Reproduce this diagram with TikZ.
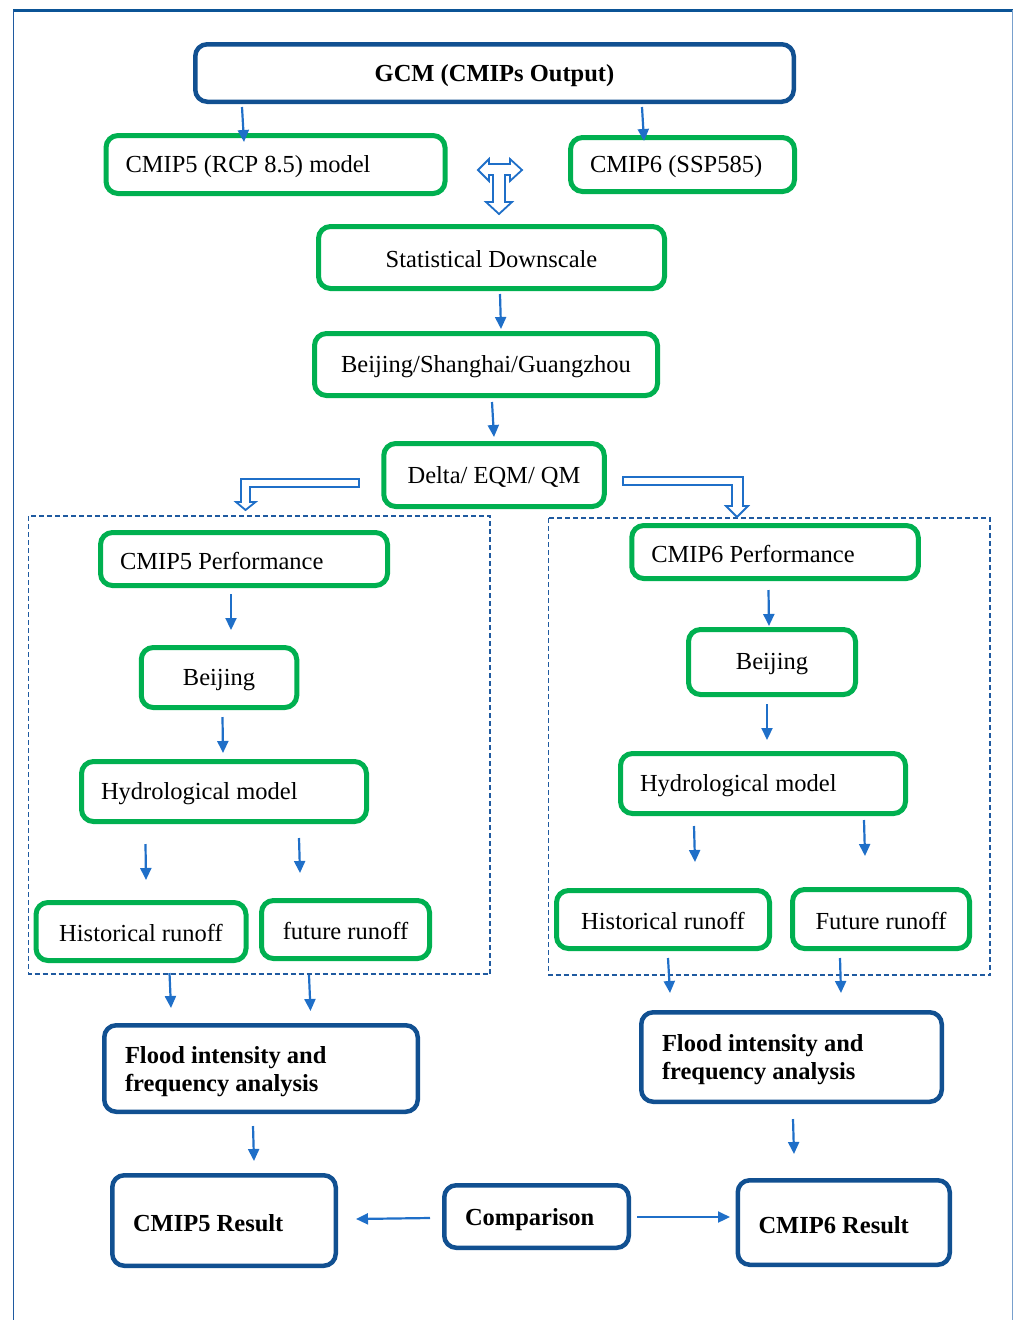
\documentclass[tikz,border=0pt]{standalone}
\usepackage{fontspec}
\setmainfont{Liberation Serif}
\usetikzlibrary{arrows.meta}
\definecolor{gr}{RGB}{0,176,80}
\definecolor{bl}{RGB}{17,80,145}
\definecolor{ar}{RGB}{31,111,200}
\definecolor{ds}{RGB}{31,90,160}
\definecolor{frm}{RGB}{11,84,150}
\definecolor{frl}{RGB}{120,160,205}
\newcommand\myfs{\fontsize{24.5pt}{28pt}\selectfont}
\begin{document}
\begin{tikzpicture}[x=1pt,y=-1pt,
  gbox/.style={draw=gr,line width=5pt,rounded corners=12pt,fill=white,inner sep=0pt,font=\myfs,text=black,
    execute at begin node={\rule{0pt}{21pt}}},
  bbox/.style={draw=bl,line width=4.5pt,rounded corners=12pt,fill=white,inner sep=0pt,font=\myfs\bfseries,text=black,
    execute at begin node={\rule{0pt}{23pt}}},
  glft/.style={align=flush left,inner xsep=19.5pt},
  blft/.style={align=flush left,inner xsep=20.75pt},
  arr/.style={draw=ar,line width=2.2pt,-{Triangle[length=12pt,width=11pt]}},
  hollow/.style={draw=ar,line width=1.8pt,fill=white,line join=miter},
  dbox/.style={draw=ds,line width=1.6pt,dash pattern=on 5pt off 3pt}]
\useasboundingbox (0,0) rectangle (1014,1320);
% frame
\draw[frm,line width=3pt] (13,10) -- (1013,10);
\draw[ds,line width=1.5pt] (13.5,10) -- (13.5,1320);
\draw[frl,line width=1.2pt] (1012.7,10) -- (1012.7,1320);
% dashed groups
\draw[dbox] (28.5,516) rectangle (490,974);
\draw[dbox] (548.5,518) rectangle (990,975);
% boxes
\node[bbox,minimum width=598.5pt,minimum height=57.5pt] (gcm) at (494.5,73) {GCM (CMIPs Output)};
\node[gbox,glft,text width=300pt,minimum height=58pt] (c5m) at (275.5,164.5) {CMIP5 (RCP 8.5) model};
\node[gbox,glft,text width=185pt,minimum height=54pt] (c6m) at (682.5,164.5) {CMIP6 (SSP585)};
\node[gbox,minimum width=346pt,minimum height=62pt] (sd) at (491.5,257.5) {Statistical Downscale};
\node[gbox,minimum width=343pt,minimum height=62pt] (bsg) at (486,364.5) {Beijing/Shanghai/Guangzhou};
\node[gbox,minimum width=220.5pt,minimum height=63pt] (dq) at (494,475) {Delta/ EQM/ QM};
\node[gbox,glft,text width=248pt,minimum height=53pt] (c5p) at (244,559) {CMIP5 Performance};
\node[gbox,minimum width=155.5pt,minimum height=60pt] (bjl) at (219,677.5) {Beijing};
\node[gbox,glft,text width=246pt,minimum height=60pt] (hml) at (224,791.5) {Hydrological model};
\node[gbox,minimum width=210pt,minimum height=58pt] (hrl) at (141,931.5) {Historical runoff};
\node[gbox,minimum width=168pt,minimum height=58pt] (frlb) at (345.5,929.5) {future runoff};
\node[gbox,glft,text width=247.5pt,minimum height=53pt] (c6p) at (775,552) {CMIP6 Performance};
\node[gbox,minimum width=167pt,minimum height=65pt] (bjr) at (772,662) {Beijing};
\node[gbox,glft,text width=246pt,minimum height=60pt] (hmr) at (763,783.5) {Hydrological model};
\node[gbox,minimum width=213pt,minimum height=58pt] (hrr) at (663,919.5) {Historical runoff};
\node[gbox,minimum width=177pt,minimum height=59pt] (frr) at (881,919) {Future runoff};
\node[bbox,blft,text width=272pt,minimum height=86.5pt] (fl) at (261,1068.5) {Flood intensity and\\frequency analysis};
\node[bbox,blft,text width=259pt,minimum height=89.5pt] (fr) at (791.5,1057) {Flood intensity and\\frequency analysis};
\node[bbox,blft,text width=182pt,minimum height=90.5pt] (c5r) at (224,1220.5) {CMIP5 Result};
\node[bbox,blft,text width=143pt,minimum height=62.5pt] (cmp) at (536.5,1216.5) {Comparison};
\node[bbox,blft,text width=170.5pt,minimum height=84.5pt] (c6r) at (843.75,1222.5) {CMIP6 Result};
% small arrows
\foreach \i/\xa/\ya/\xb/\yb in {
  1/242/107/244/142, 2/642/107/644/141, 3/500/294/501/329, 4/492/402/494/437,
  5/231/594/231/630, 6/222.5/717/223/753, 7/145.5/844/146/880, 8/299/838/300/873,
  9/768.5/590/769/626, 10/767/704/767/740, 11/694/826/695/862, 12/864/820/865/856,
  13/169.5/973/171/1008, 14/309/975/310.5/1011, 15/668/958/670/993, 16/840/958/841/993,
  17/253/1126/254/1161, 18/793/1119/794/1154, 19/430/1218/356/1219, 20/637/1217/730/1217}{
  \coordinate (s\i) at (\xa,\ya);
  \coordinate (e\i) at (\xb,\yb);
  \draw[arr] (s\i) -- (e\i);
}
% T-shaped hollow double arrow
\draw[hollow] (478,170) -- (489,159) -- (489,164) -- (510,164) -- (510,159) -- (522,170)
  -- (510,181) -- (510,175) -- (505,175) -- (505,202) -- (512,202) -- (499,214)
  -- (486,202) -- (493,202) -- (493,175) -- (489,175) -- (489,181) -- cycle;
% bent hollow arrows
\draw[hollow] (359,479) -- (241,479) -- (241,502) -- (236,502) -- (245.5,510)
  -- (255.5,502) -- (250,502) -- (250,487) -- (359,487) -- cycle;
\draw[hollow] (623,477) -- (743,477) -- (743,506) -- (748,506) -- (737,517)
  -- (726,506) -- (732,506) -- (732,485) -- (623,485) -- cycle;
\end{tikzpicture}
\end{document}
